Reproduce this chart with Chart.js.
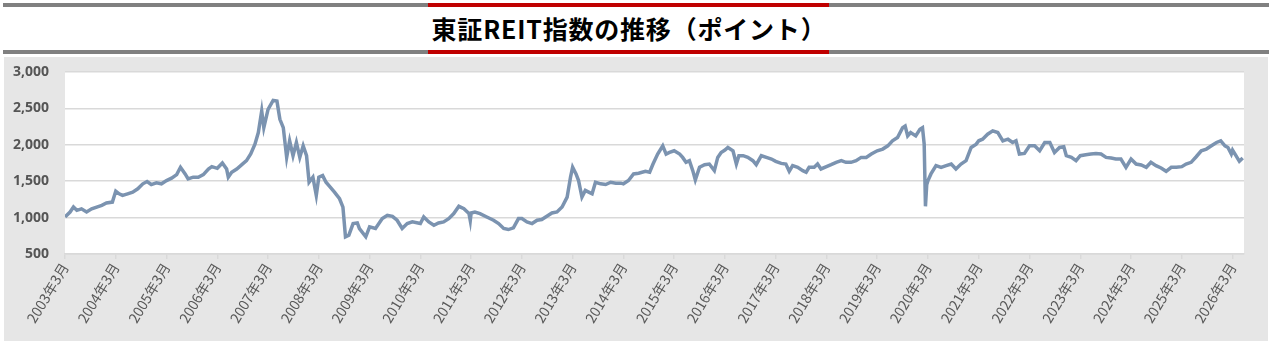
<!DOCTYPE html>
<html lang="ja">
<head>
<meta charset="utf-8">
<script src="https://cdn.jsdelivr.net/npm/chart.js@4"></script>
<style>
  body { margin: 0; background: #fff; width: 1272px; height: 346px; position: relative; overflow: hidden; }
  .bar { position: absolute; left: 3px; width: 1266px; height: 4px; background: #808080; }
  .bar .red { position: absolute; left: 425px; width: 401px; height: 4px; background: #c00000; }
  #title { position: absolute; left: 0; top: 7px; width: 1258px; text-align: center;
    font: bold 25px "Noto Sans CJK JP", sans-serif; letter-spacing: 0.8px; color: #000; line-height: 42px; }
  #box { position: absolute; left: 4px; top: 57px; width: 1264px; height: 284px; background: #e6e6e6; }
</style>
</head>
<body>
<div class="bar" style="top:3px"><div class="red"></div></div>
<div id="title">東証REIT指数の推移（ポイント）</div>
<div class="bar" style="top:50px"><div class="red"></div></div>
<div id="box"><canvas id="grafico" width="1264" height="284"></canvas></div>
<script>
// mesi dal marzo 2003 (asse x)
const mesi = [
  0.0, 1.2, 2.0, 2.8, 3.9, 5.1, 6.3, 7.5, 8.7, 9.8, 11.2, 12.0, 12.8, 13.6, 14.8, 16.0, 17.2, 18.4, 19.4, 20.4,
  21.6, 22.8, 24.0, 25.2, 26.4, 27.3, 28.4, 29.1, 30.3, 31.5, 32.7, 33.9, 34.7, 36.0, 37.2, 38.2, 38.6, 39.4, 40.6, 41.8,
  42.9, 43.9, 44.9, 45.7, 46.5, 47.0, 48.0, 49.2, 50.1, 50.8, 51.6, 52.4, 53.1, 53.9, 54.7, 55.5, 56.3, 57.1, 57.7, 58.6,
  59.4, 60.0, 60.9, 61.7, 62.7, 63.7, 64.9, 65.7, 66.3, 67.1, 68.1, 69.1, 69.6, 71.1, 72.0, 73.4, 75.0, 76.2, 77.4, 78.5,
  79.7, 80.9, 82.1, 84.0, 84.8, 86.0, 87.2, 88.3, 89.5, 90.7, 91.9, 93.1, 94.3, 95.5, 95.8, 96.0, 96.9, 98.1, 99.7, 101.3,
  102.5, 103.7, 104.8, 106.0, 107.2, 108.0, 109.2, 110.4, 111.6, 112.7, 113.9, 115.1, 116.3, 117.5, 118.7, 119.5, 120.0, 120.8, 121.4, 122.2,
  123.0, 123.8, 124.6, 125.4, 126.6, 127.8, 129.0, 130.2, 131.4, 132.0, 133.2, 134.4, 135.6, 137.2, 138.2, 139.0, 140.1, 141.3, 142.1, 142.9,
  144.0, 145.3, 146.0, 146.8, 147.6, 148.4, 149.0, 150.0, 151.2, 152.3, 153.5, 154.3, 155.1, 156.0, 156.7, 157.9, 158.7, 159.3, 160.3, 161.4,
  162.6, 163.4, 164.6, 165.8, 167.0, 168.0, 169.3, 170.4, 171.2, 172.0, 173.2, 174.4, 175.2, 175.9, 177.1, 177.9, 178.7, 180.0, 181.1, 182.3,
  183.5, 184.6, 185.8, 187.0, 188.2, 189.4, 190.6, 192.0, 193.3, 194.5, 195.6, 196.8, 198.0, 198.6, 199.2, 199.9, 201.1, 202.1, 202.7, 203.1,
  203.4, 203.7, 204.0, 204.7, 205.9, 207.1, 208.3, 209.5, 210.6, 211.8, 213.0, 214.2, 215.4, 216.0, 216.9, 218.1, 219.3, 220.5, 221.7, 222.9,
  224.0, 224.8, 225.6, 226.8, 228.0, 229.2, 230.4, 231.6, 232.8, 233.9, 235.1, 236.1, 236.7, 237.9, 239.0, 240.0, 241.3, 242.5, 243.7, 244.9,
  246.1, 247.3, 248.4, 249.6, 250.8, 252.0, 253.2, 254.4, 255.6, 256.7, 257.9, 259.1, 260.3, 261.5, 262.7, 264.0, 265.0, 266.2, 267.4, 268.6,
  269.8, 271.0, 272.2, 273.2, 274.2, 274.9, 275.7, 276.0, 276.8, 277.6, 278.4
];
// valori dell'indice
const valori = [
  1010, 1077, 1145, 1100, 1120, 1077, 1120, 1145, 1168, 1200, 1213, 1364, 1327, 1305, 1327, 1350, 1395, 1464, 1495, 1454,
  1477, 1464, 1509, 1541, 1591, 1691, 1600, 1532, 1555, 1555, 1591, 1668, 1700, 1677, 1750, 1668, 1555, 1623, 1668, 1727,
  1782, 1873, 2009, 2168, 2464, 2236, 2486, 2609, 2600, 2350, 2236, 1827, 2055, 1850, 2032, 1827, 1986, 1850, 1486, 1555,
  1305, 1555, 1577, 1486, 1418, 1350, 1259, 1145, 736, 759, 918, 927, 850, 736, 873, 850, 986, 1032, 1018, 964,
  850, 918, 941, 918, 1009, 941, 895, 927, 941, 986, 1055, 1155, 1123, 1055, 960, 1064, 1077, 1055, 1009, 964,
  918, 850, 836, 859, 986, 986, 941, 918, 964, 973, 1018, 1064, 1077, 1145, 1282, 1555, 1691, 1600, 1509, 1282,
  1373, 1350, 1327, 1486, 1464, 1454, 1486, 1473, 1473, 1464, 1509, 1600, 1609, 1636, 1623, 1736, 1873, 1986, 1873, 1895,
  1918, 1873, 1827, 1759, 1782, 1645, 1518, 1691, 1727, 1736, 1645, 1827, 1895, 1927, 1964, 1918, 1736, 1850, 1850, 1827,
  1782, 1727, 1850, 1827, 1805, 1773, 1745, 1736, 1636, 1714, 1691, 1645, 1623, 1691, 1691, 1736, 1668, 1700, 1727, 1759,
  1782, 1759, 1759, 1782, 1827, 1827, 1873, 1918, 1941, 1986, 2055, 2100, 2236, 2259, 2123, 2168, 2123, 2214, 2236, 2009,
  1155, 1450, 1509, 1600, 1714, 1691, 1714, 1736, 1668, 1736, 1782, 1964, 2009, 2055, 2077, 2145, 2191, 2168, 2055, 2077,
  2032, 2055, 1873, 1882, 1986, 1986, 1918, 2032, 2032, 1895, 1964, 1973, 1850, 1827, 1782, 1850, 1864, 1873, 1882, 1873,
  1827, 1818, 1805, 1805, 1691, 1805, 1736, 1723, 1691, 1759, 1714, 1682, 1636, 1691, 1691, 1700, 1736, 1759, 1836, 1918,
  1941, 1986, 2032, 2055, 1986, 1964, 1873, 1927, 1850, 1773, 1818
];
// etichette dell'asse x
const etichette = [
  '2003年3月', '2004年3月', '2005年3月', '2006年3月', '2007年3月', '2008年3月', '2009年3月', '2010年3月',
  '2011年3月', '2012年3月', '2013年3月', '2014年3月', '2015年3月', '2016年3月', '2017年3月', '2018年3月',
  '2019年3月', '2020年3月', '2021年3月', '2022年3月', '2023年3月', '2024年3月', '2025年3月', '2026年3月'
];
const tickY = [500, 1000, 1500, 2000, 2500, 3000];

const sfondoBianco = {
  id: 'sfondoBianco',
  beforeDraw(chart) {
    const a = chart.chartArea;
    chart.ctx.save();
    chart.ctx.fillStyle = '#ffffff';
    chart.ctx.fillRect(a.left, a.top, a.right - a.left, a.bottom - a.top);
    chart.ctx.restore();
  }
};

const init = () => {
  const ctx = document.getElementById('grafico').getContext('2d');
  new Chart(ctx, {
    type: 'line',
    data: {
      datasets: [{
        data: mesi.map((m, i) => ({ x: m, y: valori[i] })),
        borderColor: '#7b93b0',
        borderWidth: 3.5,
        pointRadius: 0,
        tension: 0
      }]
    },
    options: {
      responsive: false,
      animation: false,
      layout: { padding: { top: 15, right: 24, left: 0, bottom: 0 } },
      plugins: { legend: { display: false }, tooltip: { enabled: false } },
      scales: {
        x: {
          type: 'linear',
          min: 0,
          max: 278.7,
          afterBuildTicks: (scale) => {
            scale.ticks = etichette.map((_, i) => ({ value: i * 12 }));
          },
          afterFit: (scale) => { scale.height = 87; },
          ticks: {
            autoSkip: false,
            minRotation: 59,
            maxRotation: 59,
            padding: 1,
            color: '#595959',
            font: { family: '"Noto Sans CJK JP", sans-serif', size: 14 },
            callback: (v) => etichette[Math.round(v / 12)]
          },
          grid: { drawOnChartArea: false, drawTicks: true, tickLength: 5, color: '#d9d9d9', lineWidth: 1.5 },
          border: { color: '#d9d9d9', width: 1.5 }
        },
        y: {
          min: 500,
          max: 3000,
          afterBuildTicks: (scale) => {
            scale.ticks = tickY.map(v => ({ value: v }));
          },
          afterFit: (scale) => {
            scale.width = 61;
            scale.paddingTop = 0;
            scale.paddingBottom = 0;
          },
          ticks: {
            padding: 16,
            color: '#555555',
            font: { family: '"Noto Sans", sans-serif', size: 14, weight: 'bold' },
            callback: (v) => v.toLocaleString('en-US')
          },
          grid: { drawTicks: false, color: '#d9d9d9', lineWidth: 1.5 },
          border: { display: false }
        }
      }
    },
    plugins: [sfondoBianco]
  });
};

window.addEventListener('load', init);
</script>
</body>
</html>
